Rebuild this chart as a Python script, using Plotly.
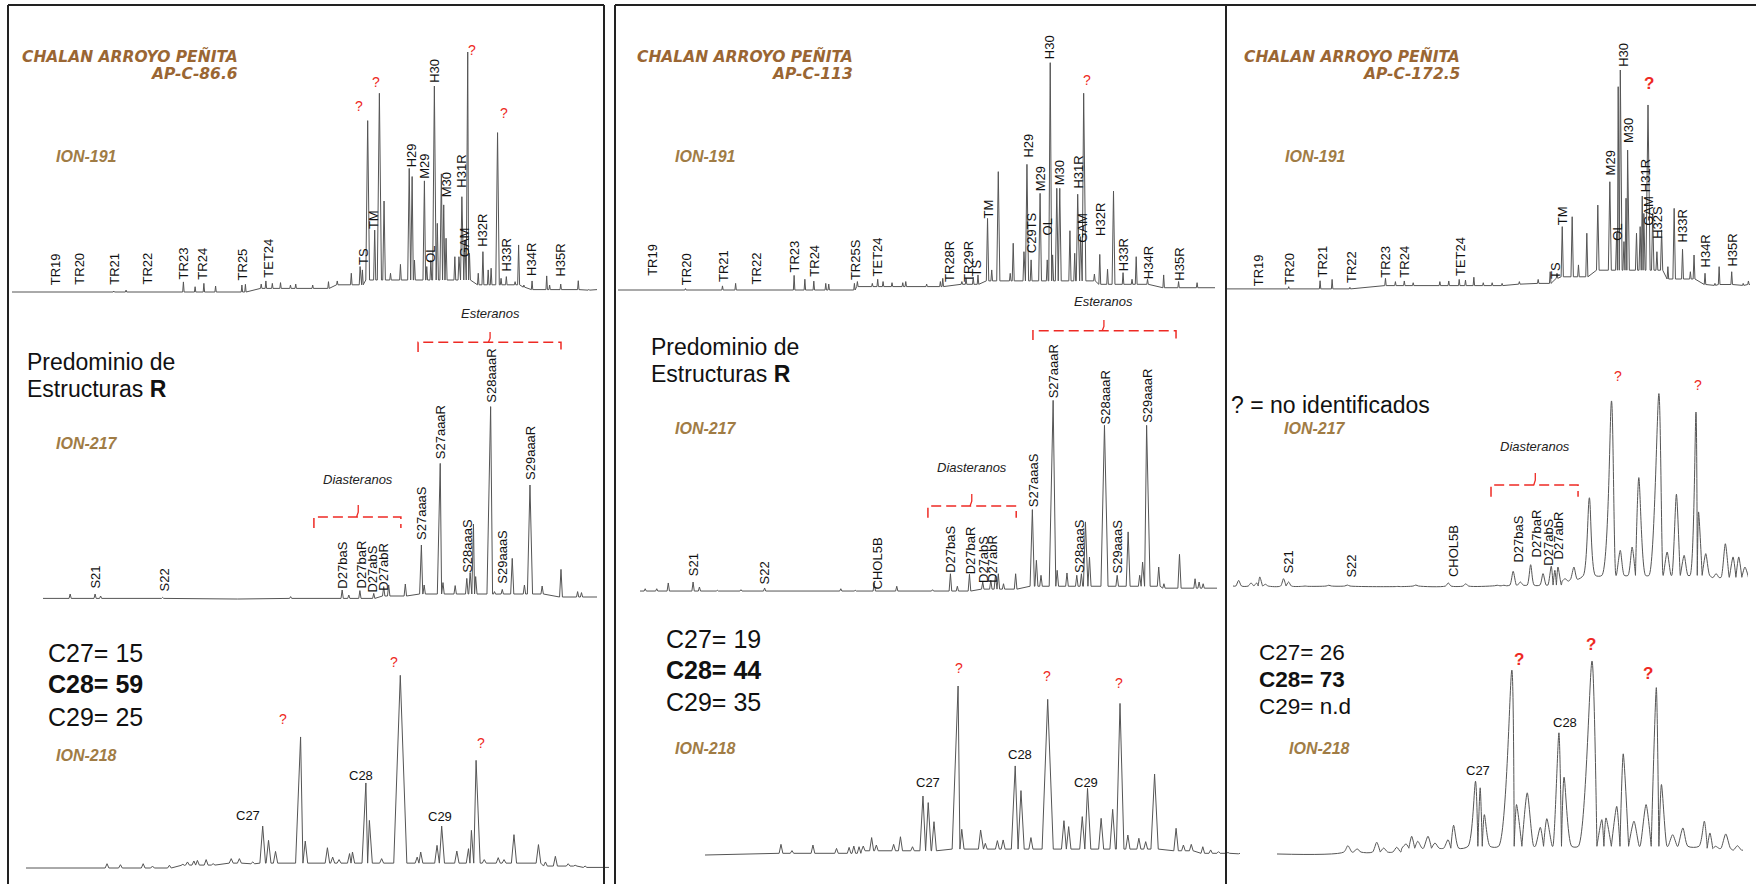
import plotly.graph_objects as go

FIG_W, FIG_H = 1756, 884

# ---------------------------------------------------------------- data
FIELD = "CHALAN ARROYO PEÑITA"
SAMPLES = ["AP-C-86.6", "AP-C-113", "AP-C-172.5"]
IONS = ["ION-191", "ION-217", "ION-218"]
C27 = [15, 19, 26]
C28 = [59, 44, 73]
C29 = [25, 35, None]

# Peaks as (retention %, relative abundance %); floors as (retention %, level %)
# Labels as (name, retention %, abundance % at label foot); unknowns as (retention %, abundance %)

# --- AP-C-86.6
A191_PEAKS = [(17.4, 0.4), (19.5, 0.8), (29.3, 4.2), (31.3, 2.2), (32.8, 3.6), (34.8, 2.5),
              (39.3, 2.9), (39.9, 3.2), (42.6, 3.3), (43.4, 4.6), (44.5, 3.6), (45.9, 3.9),
              (47.6, 2.9), (48.5, 3.3), (51.4, 2.9), (54.1, 4.3), (55.6, 4.6), (58.0, 7.8),
              (59.5, 10.6), (59.9, 9.2), (60.8, 71.4), (62.0, 25.8), (62.8, 82.8), (63.6, 37.9),
              (64.7, 7.8), (66.4, 11.5), (67.9, 51.5), (68.4, 48.1), (68.8, 13.3), (70.5, 46.3),
              (70.9, 10.6), (71.6, 13.3), (72.2, 85.8), (72.7, 28.6), (73.4, 49.2), (73.8, 36.3),
              (74.2, 22.4), (75.7, 14.7), (76.4, 14.7), (76.9, 39.7), (77.4, 21.7), (77.9, 100.0),
              (78.2, 16.1), (79.7, 7.8), (80.5, 16.8), (81.4, 9.2), (81.9, 9.9), (83.0, 66.4),
              (83.6, 5.7), (84.5, 6.4), (86.0, 4.3), (86.6, 19.6), (87.5, 2.9), (88.9, 4.6),
              (91.4, 6.7), (91.9, 2.9), (93.8, 3.3), (96.8, 4.7), (98.6, 1.1)]
A191_FLOOR = [(0, 0.0), (40, 1.5), (55, 3.0), (60, 5.0), (79, 3.0), (88, 1.0)]
A191_LABELS = [("TR19", 7.4, 2.5), ("TR20", 11.4, 2.5), ("TR21", 17.4, 2.5), ("TR22", 23.0, 2.5),
               ("TR23", 29.3, 5.0), ("TR24", 32.6, 4.6), ("TR25", 39.4, 4.6), ("TET24", 43.7, 5.6),
               ("TS", 60.0, 10.6), ("TM", 61.8, 25.8), ("H29", 68.2, 51.5), ("M29", 70.5, 46.7),
               ("OL", 71.6, 11.9), ("H30", 72.2, 86.9), ("M30", 74.2, 38.9), ("GAM", 77.4, 14.0),
               ("H31R", 76.9, 43.2), ("H32R", 80.5, 18.6), ("H33R", 84.5, 8.1), ("H34R", 88.9, 6.1),
               ("H35R", 93.8, 6.1)]
A191_UNKNOWN = [(59.4, 77.5), (62.3, 87.6), (78.6, 100.8), (84.1, 74.4)]

A217_PEAKS = [(4.9, 3.0), (9.4, 3.0), (10.4, 2.0), (21.6, 1.3), (34.9, 0.7), (44.7, 1.7),
              (54.0, 5.0), (55.2, 2.5), (57.2, 4.7), (59.7, 3.3), (61.5, 6.7), (62.4, 7.5),
              (65.4, 8.0), (68.3, 27.5), (68.8, 7.5), (71.7, 68.3), (72.2, 8.7), (74.4, 7.2),
              (76.5, 10.8), (77.1, 13.7), (77.7, 38.0), (78.1, 11.7), (80.8, 96.7), (81.5, 4.2),
              (82.9, 5.3), (84.7, 20.8), (86.9, 7.5), (87.9, 57.5), (90.1, 7.0), (93.5, 15.3),
              (96.5, 4.2), (97.2, 3.7)]
A217_FLOOR = [(0, 0.8), (60, 2.0), (66, 3.0), (91, 1.5)]
A217_LABELS = [("S21", 9.4, 5.0), ("S22", 21.9, 3.7), ("D27baS", 54.0, 5.0), ("D27baR", 57.4, 5.3),
               ("D27abS", 59.5, 3.3), ("D27abR", 61.4, 4.2), ("S27aaaS", 68.3, 29.7),
               ("S27aaaR", 71.7, 70.0), ("S28aaaS", 76.5, 13.0), ("S28aaaR", 80.8, 98.0),
               ("S29aaaS", 82.8, 7.5), ("S29aaaR", 87.9, 59.5)]
A217_UNKNOWN = []

A218_PEAKS = [(13.9, 2.2), (16.2, 1.7), (20.1, 2.2), (21.7, 1.0), (24.6, 1.4), (26.9, 1.9),
              (27.7, 3.1), (28.8, 3.6), (29.4, 3.9), (30.9, 4.3), (32.1, 2.2), (35.2, 4.8),
              (36.6, 4.8), (38.9, 3.1), (40.6, 21.5), (41.6, 14.2), (42.8, 8.5), (47.1, 67.2),
              (47.9, 13.8), (51.7, 10.4), (52.6, 5.6), (53.7, 4.3), (55.5, 7.4), (56.0, 8.2),
              (58.3, 43.6), (58.9, 24.4), (61.0, 4.8), (64.2, 98.8), (67.1, 5.6), (67.7, 8.2),
              (70.5, 11.6), (71.3, 21.5), (73.9, 8.7), (75.9, 9.9), (76.4, 19.3), (77.2, 55.2),
              (78.6, 4.3), (81.0, 5.3), (82.0, 4.3), (83.7, 17.1), (87.9, 12.0), (89.1, 3.1),
              (90.8, 6.0), (93.0, 2.2), (94.2, 1.4), (95.9, 1.0), (97.9, 0.5)]
A218_FLOOR = [(0, 0.0), (26, 1.5), (34, 2.5), (88, 1.0), (95, 0.3)]
A218_LABELS = [("C27", 38.1, 27.0), ("C28", 57.4, 47.5), ("C29", 71.0, 26.5)]
A218_UNKNOWN = [(44.0, 76.6), (63.1, 105.6), (78.1, 64.1)]

# --- AP-C-113
B191_PEAKS = [(11.3, 0.6), (17.5, 1.8), (19.7, 2.9), (29.5, 6.4), (31.3, 4.7), (32.8, 3.9),
              (34.8, 2.9), (35.3, 2.6), (39.6, 2.9), (40.1, 3.7), (42.6, 2.9), (43.5, 4.7),
              (44.4, 3.7), (45.9, 3.2), (47.7, 3.2), (48.2, 3.7), (51.7, 2.6), (54.0, 3.7),
              (54.4, 5.1), (57.6, 3.7), (58.3, 5.1), (59.5, 5.6), (60.3, 6.6), (61.9, 31.4),
              (62.6, 8.8), (63.7, 51.9), (65.7, 7.3), (66.2, 20.5), (68.0, 16.8), (68.5, 55.1),
              (69.2, 13.2), (70.7, 42.4), (71.9, 13.2), (72.4, 99.7), (72.8, 15.4), (73.5, 44.6),
              (74.0, 44.6), (75.7, 26.0), (76.5, 16.1), (77.0, 42.0), (77.5, 23.4), (78.0, 86.3),
              (79.8, 7.0), (80.7, 15.6), (82.0, 9.1), (83.0, 43.4), (84.6, 7.6), (86.1, 4.7),
              (86.8, 14.6), (88.7, 4.7), (91.4, 6.6), (93.9, 3.7), (97.0, 3.2)]
B191_FLOOR = [(0, 0.0), (40, 1.5), (55, 2.5), (61, 4.0), (80, 2.5), (90, 1.0)]
B191_LABELS = [("TR19", 5.8, 5.6), ("TR20", 11.6, 1.8), ("TR21", 17.7, 2.9), ("TR22", 23.2, 1.8),
               ("TR23", 29.5, 7.3), ("TR24", 33.0, 5.4), ("TR25S", 39.7, 3.7), ("TET24", 43.5, 5.6),
               ("TR28R", 55.4, 3.2), ("TR29R", 58.6, 3.2), ("TS", 60.1, 5.6), ("TM", 62.1, 31.0),
               ("H29", 68.7, 57.7), ("C29TS", 69.3, 15.8), ("M29", 70.7, 42.7), ("OL", 71.9, 23.4),
               ("H30", 72.4, 100.9), ("M30", 74.0, 45.6), ("H31R", 77.2, 44.2), ("GAM", 77.8, 20.5),
               ("H32R", 80.7, 23.4), ("H33R", 84.6, 7.6), ("H34R", 88.9, 4.4), ("H35R", 93.9, 3.7)]
B191_UNKNOWN = [(78.6, 92.1)]

B217_PEAKS = [(0.9, 1.7), (2.9, 1.7), (4.9, 4.7), (9.2, 5.2), (10.3, 2.6), (13.4, 0.9),
              (17.5, 1.2), (21.6, 2.1), (34.8, 1.7), (37.3, 0.9), (40.6, 4.7), (44.5, 3.0),
              (50.7, 1.2), (53.8, 9.5), (55.0, 3.0), (57.1, 9.2), (59.4, 5.2), (60.8, 6.1),
              (61.6, 8.7), (62.1, 9.5), (63.0, 4.3), (65.1, 9.5), (68.0, 42.9), (68.7, 16.5),
              (69.5, 8.7), (71.6, 99.8), (72.3, 11.3), (74.0, 9.9), (75.7, 8.7), (76.5, 9.5),
              (77.2, 36.5), (77.9, 18.2), (80.5, 86.8), (82.7, 8.7), (84.6, 31.3), (86.6, 8.7),
              (87.1, 15.6), (87.8, 86.8), (89.9, 13.0), (90.8, 4.3), (93.5, 19.6), (96.2, 6.9),
              (96.9, 5.2), (97.6, 4.3)]
B217_FLOOR = [(0, 0.5), (58, 1.5), (66, 3.0), (90, 2.0)]
B217_LABELS = [("S21", 9.2, 7.5), ("S22", 21.6, 3.5), ("CHOL5B", 41.1, 0.9), ("D27baS", 53.9, 9.2),
               ("D27baR", 57.2, 8.7), ("D27abS", 59.4, 4.3), ("D27abR", 61.2, 4.3),
               ("S27aaaS", 68.2, 43.4), ("S27aaaR", 71.7, 100.2), ("S28aaaS", 76.2, 9.2),
               ("S28aaaR", 80.6, 86.8), ("S29aaaS", 82.7, 9.2), ("S29aaaR", 87.9, 87.7)]
B217_UNKNOWN = []

B218_PEAKS = [(14.5, 6.3), (16.6, 2.6), (20.6, 5.9), (25.1, 3.9), (27.5, 4.5), (28.4, 5.3),
              (29.4, 4.9), (30.2, 5.3), (31.8, 10.3), (32.7, 5.9), (36.0, 6.3), (37.3, 10.8),
              (39.6, 4.9), (41.6, 34.9), (42.6, 31.0), (43.7, 19.7), (48.3, 100.0), (49.0, 15.2),
              (52.6, 14.8), (53.5, 6.9), (55.8, 8.5), (56.9, 8.9), (59.2, 52.7), (60.3, 38.1),
              (62.2, 10.3), (65.4, 92.1), (68.5, 20.3), (69.4, 16.8), (72.0, 22.7), (73.0, 39.4),
              (75.6, 21.7), (77.8, 27.0), (79.2, 89.7), (80.7, 11.8), (82.8, 9.9), (84.1, 7.9),
              (85.8, 47.9), (89.9, 15.8), (91.3, 5.9), (92.8, 6.3), (95.0, 4.9), (96.5, 3.0),
              (98.0, 2.0), (99.8, 1.5), (101.5, 1.0)]
B218_FLOOR = [(0, 0.0), (14, 1.0), (30, 2.5), (45, 3.5), (88, 2.5), (95, 1.0)]
B218_LABELS = [("C27", 42.6, 42.8), ("C28", 60.2, 59.6), ("C29", 72.8, 42.8)]
B218_UNKNOWN = [(48.4, 110.5), (65.2, 105.9), (79.0, 101.6)]

# --- AP-C-172.5
C191_PEAKS = [(11.8, 1.5), (17.8, 4.2), (20.1, 4.8), (23.5, 1.2), (30.3, 5.3), (32.2, 3.8),
              (33.9, 4.1), (35.6, 3.3), (40.7, 3.8), (42.4, 4.1), (44.4, 4.8), (45.6, 4.5),
              (47.2, 5.8), (49.0, 3.3), (50.7, 3.3), (52.6, 3.0), (55.9, 3.8), (59.5, 4.8),
              (61.8, 8.3), (63.1, 7.6), (64.1, 28.8), (66.0, 33.3), (67.2, 11.4), (68.8, 25.8),
              (70.9, 38.6), (73.2, 49.2), (74.5, 25.8), (74.8, 92.4), (75.2, 100.0), (75.9, 22.0),
              (76.3, 41.7), (76.6, 63.6), (78.3, 25.8), (79.0, 28.8), (79.4, 42.7), (79.7, 34.8),
              (80.5, 84.1), (81.4, 34.8), (82.2, 17.4), (83.1, 27.3), (84.3, 10.6), (85.5, 37.1),
              (87.1, 18.5), (88.6, 8.3), (89.3, 15.9), (91.4, 7.6), (93.3, 3.0), (94.1, 10.6),
              (96.5, 8.3), (98.7, 3.0), (99.7, 4.1)]
C191_FLOOR = [(0, 0.5), (30, 2.0), (55, 3.0), (62, 6.0), (70, 9.0), (84, 5.0), (90, 2.5)]
C191_LABELS = [("TR19", 5.9, 1.2), ("TR20", 11.8, 1.8), ("TR21", 18.2, 5.3), ("TR22", 23.7, 2.7),
               ("TR23", 30.3, 5.3), ("TR24", 33.9, 5.3), ("TET24", 44.6, 5.8), ("TS", 62.9, 4.8),
               ("TM", 64.2, 29.1), ("M29", 73.4, 51.8), ("OL", 74.5, 22.0), ("H30", 75.8, 101.2),
               ("M30", 76.8, 66.4), ("H31R", 79.9, 44.2), ("GAM", 80.7, 28.8), ("H32S", 82.4, 23.0),
               ("H33R", 87.1, 21.2), ("H34R", 91.5, 9.8), ("H35R", 96.7, 10.3)]
C191_UNKNOWN = [(80.7, 93.9)]

C217_PEAKS = [(1.1, 3.4), (3.5, 2.1), (4.6, 2.1), (5.2, 5.2), (6.3, 1.4), (9.8, 4.3),
              (10.8, 2.6), (14.0, 0.5), (18.6, 0.9), (22.2, 1.0), (32.0, 0.3), (35.5, 1.0),
              (41.8, 2.1), (45.2, 1.7), (51.3, 0.9), (52.6, 0.9), (54.4, 8.1), (55.8, 2.6),
              (57.8, 11.5), (60.2, 6.9), (61.8, 10.7), (62.5, 8.6), (63.1, 10.3), (64.5, 4.3),
              (66.2, 10.3), (69.2, 46.0), (73.5, 95.9), (75.2, 18.9), (77.5, 20.6), (78.8, 56.4),
              (82.7, 99.7), (84.3, 18.0), (86.1, 47.8), (87.6, 16.3), (89.9, 90.2), (90.4, 38.7),
              (91.8, 17.2), (93.8, 6.9), (95.6, 22.3), (97.1, 15.5), (98.2, 15.5), (99.4, 10.3)]
C217_FLOOR = [(0, 0.5), (50, 1.0), (64, 4.0), (68, 6.0), (92, 5.0)]
C217_LABELS = [("S21", 10.8, 6.5), ("S22", 23.0, 4.3), ("CHOL5B", 42.8, 4.8), ("D27baS", 55.4, 12.0),
               ("D27baR", 58.9, 14.9), ("D27abS", 61.2, 10.3), ("D27abR", 63.1, 13.7)]
C217_UNKNOWN = [(74.7, 108.6), (90.3, 104.3)]

C218_PEAKS = [(15.2, 4.3), (17.2, 2.6), (21.4, 6.1), (22.9, 3.1), (25.7, 3.5), (27.7, 5.2),
              (28.9, 9.2), (30.2, 6.6), (32.4, 9.2), (33.9, 5.7), (36.7, 7.4), (37.9, 14.9),
              (42.6, 37.7), (43.6, 34.3), (44.5, 20.4), (50.4, 95.3), (51.4, 25.6), (53.7, 31.7),
              (56.5, 13.8), (57.9, 18.3), (60.5, 62.8), (61.6, 39.8), (67.6, 100.0), (69.7, 17.8),
              (70.6, 18.7), (72.9, 24.7), (74.3, 51.9), (76.6, 17.0), (79.2, 25.6), (81.4, 86.2),
              (82.5, 36.0), (84.9, 10.0), (87.1, 13.5), (91.7, 17.0), (92.9, 10.9), (94.1, 4.0),
              (96.3, 10.4), (98.8, 4.3)]
C218_FLOOR = [(0, 0.0), (14, 1.0), (26, 3.0), (40, 4.0), (92, 3.0), (97, 2.0)]
C218_LABELS = [("C27", 43.2, 43.4), ("C28", 61.8, 68.3)]
C218_UNKNOWN = [(51.9, 100.9), (67.3, 108.7), (79.6, 93.6)]

# Group brackets: (left, centre, right, line level, end level, notch top, caption level)
A_EST = (67.7, 80.7, 93.5, 128.9, 124.0, 134.0, 143.5)
A_DIA = (48.9, 56.9, 64.6, 41.5, 36.0, 47.5, 60.5)
B_EST = (68.1, 80.4, 92.9, 136.1, 131.3, 141.7, 151.2)
B_DIA = (49.9, 57.5, 65.2, 44.8, 38.7, 51.0, 64.7)
C_DIA = (50.1, 58.7, 67.0, 52.6, 46.5, 58.8, 72.3)

# ---------------------------------------------------------------- layout constants (px)
# left px, width px per 100 %, baseline px, height px per 100 %, top of range, peak half-width, smooth
GEOM = [
    dict(L=12, W=585, base=292, H=240, yhi=115, w0=0.18, smooth=False),
    dict(L=43, W=554, base=600, H=200, yhi=150, w0=0.30, smooth=False),
    dict(L=26, W=583, base=868, H=195, yhi=115, w0=0.50, smooth=False),
    dict(L=618, W=597, base=290, H=228, yhi=120, w0=0.18, smooth=False),
    dict(L=640, W=577, base=592, H=192, yhi=155, w0=0.30, smooth=False),
    dict(L=705, W=524, base=855, H=169, yhi=118, w0=0.50, smooth=False, xmax=102.1),
    dict(L=1227, W=523, base=290, H=220, yhi=120, w0=0.20, smooth=False),
    dict(L=1233, W=515, base=587, H=194, yhi=115, w0=0.85, smooth=True),
    dict(L=1277, W=466, base=854, H=193, yhi=115, w0=1.30, smooth=True),
]
SERIES = [
    (A191_PEAKS, A191_FLOOR, A191_LABELS, A191_UNKNOWN),
    (A217_PEAKS, A217_FLOOR, A217_LABELS, A217_UNKNOWN),
    (A218_PEAKS, A218_FLOOR, A218_LABELS, A218_UNKNOWN),
    (B191_PEAKS, B191_FLOOR, B191_LABELS, B191_UNKNOWN),
    (B217_PEAKS, B217_FLOOR, B217_LABELS, B217_UNKNOWN),
    (B218_PEAKS, B218_FLOOR, B218_LABELS, B218_UNKNOWN),
    (C191_PEAKS, C191_FLOOR, C191_LABELS, C191_UNKNOWN),
    (C217_PEAKS, C217_FLOOR, C217_LABELS, C217_UNKNOWN),
    (C218_PEAKS, C218_FLOOR, C218_LABELS, C218_UNKNOWN),
]
BRACKETS = [(2, A_EST, "Esteranos"), (2, A_DIA, "Diasteranos"),
            (5, B_EST, "Esteranos"), (5, B_DIA, "Diasteranos"),
            (8, C_DIA, "Diasteranos")]

BROWN = "#9A6633"
GOLD = "#A07C45"
RED = "#EE2A24"
INK = "#111111"
TRACE = "#555555"
SANS = "Liberation Sans, Arial, sans-serif"
TITLE_FONT = "DejaVu Sans, Verdana, sans-serif"


def floor_at(floor, x):
    level = floor[0][1]
    for fx, fy in floor:
        if x >= fx:
            level = fy
    return level


def profile(peaks, floor, w0, x_end):
    xs = [p[0] for p in peaks]
    hs = [p[1] for p in peaks]
    px, py = [0.0], [floor_at(floor, 0.0)]
    n = len(xs)
    for i in range(n):
        x, h = xs[i], hs[i]
        w = w0 * (0.6 + h / 60.0)
        lo = x - w if i == 0 else max(x - w, (xs[i - 1] + x) / 2)
        hi = x + w if i == n - 1 else min(x + w, (x + xs[i + 1]) / 2)
        fl = min(floor_at(floor, x), 0.7 * h)
        px += [lo, x, hi]
        py += [fl, h, fl]
    px.append(x_end)
    py.append(floor_at(floor, x_end))
    return px, py


def px_x(v):
    return v / FIG_W


def px_y(v):
    return 1 - v / FIG_H


fig = go.Figure()
layout = dict(
    width=FIG_W, height=FIG_H, margin=dict(l=0, r=0, t=0, b=0),
    paper_bgcolor="white", plot_bgcolor="rgba(0,0,0,0)", showlegend=False,
)
annotations = []
shapes = []

for k, (g, (peaks, floor, labels, unknown)) in enumerate(zip(GEOM, SERIES), start=1):
    xmax = g.get("xmax", 100.0)
    ylo, yhi = -6.0, g["yhi"]
    x0 = g["L"] / FIG_W
    x1 = (g["L"] + g["W"] * xmax / 100.0) / FIG_W
    bot_px = g["base"] - ylo * g["H"] / 100.0
    top_px = g["base"] - yhi * g["H"] / 100.0
    sfx = "" if k == 1 else str(k)
    layout["xaxis" + sfx] = dict(domain=[max(0, x0), min(1, x1)], range=[0, xmax], visible=False,
                                 anchor="y" + sfx, fixedrange=True)
    layout["yaxis" + sfx] = dict(domain=[max(0, px_y(bot_px)), min(1, px_y(top_px))],
                                 range=[ylo, yhi], visible=False, anchor="x" + sfx, fixedrange=True)

    xs, ys = profile(peaks, floor, g["w0"], xmax)
    line = dict(color=TRACE, width=1)
    if g["smooth"]:
        line.update(shape="spline", smoothing=0.7)
    fig.add_trace(go.Scatter(x=xs, y=ys, mode="lines", line=line, hoverinfo="skip",
                             xaxis="x" + sfx, yaxis="y" + sfx))

    is_218 = (k % 3 == 0)
    bold_q = k in (7, 9)
    for name, lx, ly in labels:
        if is_218:
            annotations.append(dict(x=lx, y=ly, xref="x" + sfx, yref="y" + sfx, text=name,
                                    showarrow=False, font=dict(family=SANS, size=13, color=INK),
                                    xanchor="center", yanchor="middle"))
        else:
            annotations.append(dict(x=lx, y=ly, xref="x" + sfx, yref="y" + sfx, text=name,
                                    showarrow=False, textangle=-90, borderpad=0,
                                    font=dict(family=SANS, size=13, color=INK),
                                    xanchor="center", yanchor="bottom"))
    for qx, qy in unknown:
        annotations.append(dict(x=qx, y=qy, xref="x" + sfx, yref="y" + sfx,
                                text="<b>?</b>" if bold_q else "?", showarrow=False,
                                font=dict(family=SANS, size=17 if bold_q else 14, color=RED),
                                xanchor="center", yanchor="middle"))

# dashed group brackets
for k, (xl, xc, xr, yl, ye, yt, yc), caption in BRACKETS:
    sfx = str(k)
    fig.add_trace(go.Scatter(x=[xl, xl, xr, xr], y=[ye, yl, yl, ye], mode="lines",
                             line=dict(color=RED, width=1.5, dash="10px,5px"), hoverinfo="skip",
                             xaxis="x" + sfx, yaxis="y" + sfx))
    fig.add_trace(go.Scatter(x=[xc - 0.3, xc, xc], y=[yl, yl + (yt - yl) * 0.4, yt], mode="lines",
                             line=dict(color=RED, width=1.3), hoverinfo="skip",
                             xaxis="x" + sfx, yaxis="y" + sfx))
    annotations.append(dict(x=xc, y=yc, xref="x" + sfx, yref="y" + sfx, text="<i>%s</i>" % caption,
                            showarrow=False, font=dict(family=SANS, size=13, color="#222222"),
                            xanchor="center", yanchor="middle"))

# panel frames
FRAME = "#222222"
for xa, xb in [(8, 604), (615, FIG_W)]:
    shapes.append(dict(type="line", xref="paper", yref="paper", x0=px_x(xa), x1=px_x(xb),
                       y0=px_y(5), y1=px_y(5), line=dict(color=FRAME, width=2)))
for xv in [8, 604, 615, 1226]:
    shapes.append(dict(type="line", xref="paper", yref="paper", x0=px_x(xv), x1=px_x(xv),
                       y0=px_y(5), y1=px_y(FIG_H), line=dict(color=FRAME, width=2)))

# panel texts
TITLE_RIGHT = [239, 854, 1461]
ION_LEFT = [(55, 55, 55), (674, 674, 674), (1284, 1283, 1288)]
ION_Y = [(156, 443, 755), (156, 428, 748), (156, 428, 748)]
RATIO_POS = [(47, (653, 684, 717), 25), (665, (639, 670, 702), 25), (1258, (652, 679, 706), 22.5)]


def paper_text(x, y, text, size, color, family=SANS, xanchor="left", weight=None, style=None):
    font = dict(family=family, size=size, color=color)
    if weight:
        font["weight"] = weight
    if style:
        font["style"] = style
    annotations.append(dict(x=px_x(x), y=px_y(y), xref="paper", yref="paper", text=text,
                            showarrow=False, font=font, xanchor=xanchor, yanchor="middle",
                            borderpad=0))


for i in range(3):
    paper_text(TITLE_RIGHT[i], 57, FIELD, 15.5, BROWN, TITLE_FONT, "right", "bold", "italic")
    paper_text(TITLE_RIGHT[i], 74, SAMPLES[i], 15.5, BROWN, TITLE_FONT, "right", "bold", "italic")
    for j in range(3):
        paper_text(ION_LEFT[i][j], ION_Y[i][j], IONS[j], 16, GOLD, SANS, "left", "bold", "italic")
    rx, ry, rs = RATIO_POS[i]
    c29 = "n.d" if C29[i] is None else str(C29[i])
    paper_text(rx, ry[0], "C27= %d" % C27[i], rs, INK)
    paper_text(rx, ry[1], "<b>C28= %d</b>" % C28[i], rs, INK)
    paper_text(rx, ry[2], "C29= %s" % c29, rs, INK)

for x, y0 in [(26, 362), (650, 347)]:
    paper_text(x, y0, "Predominio de", 23, INK)
    paper_text(x, y0 + 27, "Estructuras <b>R</b>", 23, INK)
paper_text(1230, 405, "? = no identificados", 23, INK)

layout["annotations"] = annotations
layout["shapes"] = shapes
fig.update_layout(**layout)
fig.write_html("out.html")
